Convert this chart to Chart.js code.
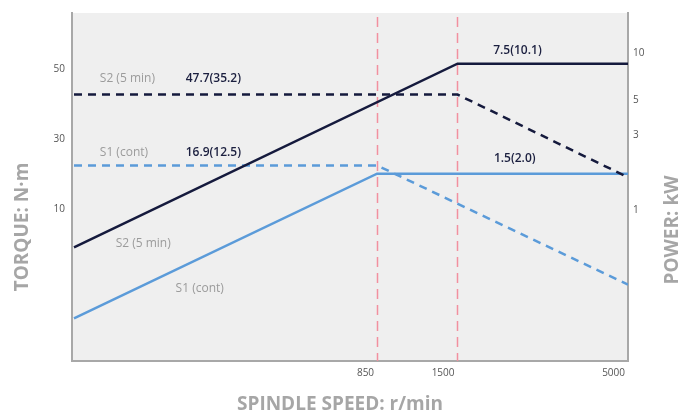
<!DOCTYPE html>
<html>
<head>
<meta charset="utf-8">
<script src="https://cdn.jsdelivr.net/npm/chart.js@4.4.1/dist/chart.umd.min.js"></script>
<style>
  html, body { margin: 0; padding: 0; background: #fff; }
  #wrap { width: 696px; height: 418px; position: relative; }
</style>
</head>
<body>
<div id="wrap"><canvas id="chart"></canvas></div>
<script>
// spindle speed, r/min
const speedS2 = [100, 1500, 5000];
const speedS1 = [100, 850, 5000];
// power, kW
const powerS2 = [0.51, 7.5, 7.5];
const powerS1 = [0.18, 1.5, 1.5];
// torque, N·m
const torqueS2 = [47.7, 47.7, 14.2];
const torqueS1 = [16.9, 16.9, 2.95];
// base speeds marked with the pink lines
const baseSpeeds = [850, 1500];

const speedTicks = [850, 1500, 5000];
const torqueTicks = [10, 30, 50];
const powerTicks = [1, 3, 5, 10];

const NAVY = '#151a3d';
const BLUE = '#5b9bd9';
const FONT = 'Open Sans';

// text labels inside the plot (anchored on the scales)
const notes = [
  { text: 'S2 (5 min)', x: 120, axis: 'yT', y: 47.7, dy: -16, bold: false },
  { text: '47.7(35.2)', x: 220, axis: 'yT', y: 47.7, dy: -16, bold: true },
  { text: 'S1 (cont)', x: 120, axis: 'yT', y: 16.9, dy: -13, bold: false },
  { text: '16.9(12.5)', x: 220, axis: 'yT', y: 16.9, dy: -13, bold: true },
  { text: '7.5(10.1)', x: 1930, axis: 'yP', y: 7.5, dy: -13, bold: true },
  { text: '1.5(2.0)', x: 1940, axis: 'yP', y: 1.5, dy: -15, bold: true },
  { text: 'S2 (5 min)', x: 163, axis: 'yP', y: 0.54, dy: 0, bold: false, center: true },
  { text: 'S1 (cont)', x: 243, axis: 'yP', y: 0.28, dy: 0, bold: false, center: true }
];

function pts(xs, ys) {
  return xs.map((x, i) => ({ x: x, y: ys[i] }));
}

const decor = {
  id: 'decor',
  beforeDraw(chart) {
    const { ctx, chartArea: a } = chart;
    ctx.save();
    ctx.fillStyle = '#efefef';
    ctx.fillRect(a.left, a.top, a.right - a.left, a.bottom - a.top);
    ctx.restore();
  },
  beforeDatasetsDraw(chart) {
    const { ctx, chartArea: a } = chart;
    const xs = chart.scales.x;
    ctx.save();
    ctx.strokeStyle = '#f2909f';
    ctx.lineWidth = 1.5;
    ctx.setLineDash([10, 6]);
    baseSpeeds.forEach(s => {
      const px = Math.round(xs.getPixelForValue(s)) + 0.5;
      ctx.beginPath();
      ctx.moveTo(px, a.top + 4);
      ctx.lineTo(px, a.bottom);
      ctx.stroke();
    });
    ctx.restore();
  },
  afterDraw(chart) {
    const { ctx, chartArea: a } = chart;
    const xs = chart.scales.x;
    ctx.save();
    ctx.textBaseline = 'middle';
    notes.forEach(n => {
      const px = xs.getPixelForValue(n.x);
      const py = chart.scales[n.axis].getPixelForValue(n.y) + n.dy;
      ctx.font = (n.bold ? '600 ' : '400 ') + '12px "' + FONT + '"';
      ctx.fillStyle = n.bold ? '#1b1f3f' : '#9b9b9b';
      ctx.textAlign = n.center ? 'center' : 'left';
      ctx.fillText(n.text, px, py);
    });

    // axis titles
    ctx.font = '700 19px "' + FONT + '"';
    ctx.fillStyle = '#a6a6a6';
    ctx.textAlign = 'center';
    ctx.fillText('SPINDLE SPEED: r/min', a.left + 268, 405);
    ctx.save();
    ctx.translate(23, a.top + 214);
    ctx.rotate(-Math.PI / 2);
    ctx.fillText('TORQUE: N·m', 0, 0);
    ctx.restore();
    ctx.save();
    ctx.translate(673, a.top + 217);
    ctx.rotate(-Math.PI / 2);
    ctx.fillText('POWER: kW', 0, 0);
    ctx.restore();
    ctx.restore();
  }
};

const tickFont = { family: FONT, size: 10 };
const axisBorder = { color: '#a8a8a8', width: 2 };
const noGrid = { drawOnChartArea: false, drawTicks: false };

new Chart(document.getElementById('chart'), {
  type: 'line',
  data: {
    datasets: [
      { label: 'S2 power', data: pts(speedS2, powerS2), yAxisID: 'yP',
        borderColor: NAVY, borderWidth: 2.5 },
      { label: 'S2 torque', data: pts(speedS2, torqueS2), yAxisID: 'yT',
        borderColor: NAVY, borderWidth: 2.5, borderDash: [8, 6] },
      { label: 'S1 power', data: pts(speedS1, powerS1), yAxisID: 'yP',
        borderColor: BLUE, borderWidth: 2.5 },
      { label: 'S1 torque', data: pts(speedS1, torqueS1), yAxisID: 'yT',
        borderColor: BLUE, borderWidth: 2.5, borderDash: [8, 6] }
    ]
  },
  options: {
    responsive: true,
    maintainAspectRatio: false,
    animation: false,
    layout: { padding: { top: 11 } },
    elements: { point: { radius: 0 }, line: { tension: 0, fill: false } },
    plugins: { legend: { display: false }, tooltip: { enabled: false } },
    scales: {
      x: {
        type: 'logarithmic', min: 98.6, max: 5000,
        afterBuildTicks: s => { s.ticks = speedTicks.map(v => ({ value: v })); },
        afterFit: s => { s.height = 57; },
        grid: noGrid, border: axisBorder,
        ticks: { align: 'end', labelOffset: -3, padding: 6, color: '#555', font: tickFont,
                 maxRotation: 0, autoSkip: false, callback: v => String(v) }
      },
      yL: {
        type: 'linear', position: 'left', min: -33.2, max: 66.1,
        afterBuildTicks: s => { s.ticks = torqueTicks.map(v => ({ value: v })); },
        afterFit: s => { s.width = 72; },
        grid: noGrid, border: axisBorder,
        ticks: { padding: 7, color: '#555', font: tickFont, callback: v => String(v) }
      },
      yT: {
        type: 'logarithmic', display: false, min: 0.9645, max: 157.4
      },
      yP: {
        type: 'logarithmic', position: 'right', min: 0.0966, max: 15.76,
        afterBuildTicks: s => { s.ticks = powerTicks.map(v => ({ value: v })); },
        afterFit: s => { s.width = 68; },
        grid: noGrid, border: axisBorder,
        ticks: { padding: 5, labelOffset: 9, color: '#555', font: tickFont, callback: v => String(v) }
      }
    }
  },
  plugins: [decor]
});
</script>
</body>
</html>
